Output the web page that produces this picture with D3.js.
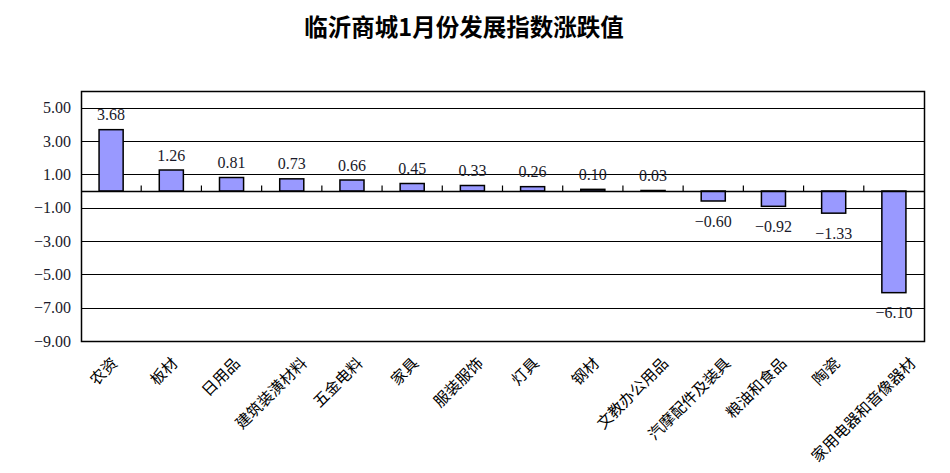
<!DOCTYPE html>
<html><head><meta charset="utf-8">
<script src="https://cdn.jsdelivr.net/npm/d3@7"></script>
<style>body{margin:0;background:#fff;}svg{display:block;}</style>
</head><body>
<svg id="c" width="950" height="473"></svg>
<script>
const title = "临沂商城1月份发展指数涨跌值";
const categories = ["农资","板材","日用品","建筑装潢材料","五金电料","家具","服装服饰","灯具","钢材","文教办公用品","汽摩配件及装具","粮油和食品","陶瓷","家用电器和音像器材"];
const values = [3.68,1.26,0.81,0.73,0.66,0.45,0.33,0.26,0.10,0.03,-0.60,-0.92,-1.33,-6.10];
const yTicks = [5,3,1,-1,-3,-5,-7,-9];

const svg = d3.select("#c");
const m = {left:81, right:924, top:91, bottom:341};
const x = d3.scaleBand().domain(categories).range([m.left, m.right]).paddingInner(0.6).paddingOuter(0.3);
const xb = d3.scaleBand().domain(categories).range([m.left, m.right]);
const y = d3.scaleLinear().domain([-9, 6]).range([m.bottom, m.top]);
const fmt = v => (v < 0 ? "\u2212" : "") + Math.abs(v).toFixed(2);
const serif = "'Liberation Serif','Times New Roman',serif";
const cjk = "'Noto Sans CJK SC','Noto Sans CJK TC',sans-serif";

svg.append("text").attr("x", 464).attr("y", 36).attr("text-anchor","middle")
  .attr("font-family", cjk).attr("font-weight","bold").attr("font-size", 23.5).attr("fill","#000").text(title);

// gridlines
svg.append("g").selectAll("line").data(yTicks.filter(t => t !== -9)).join("line")
  .attr("x1", m.left).attr("x2", m.right).attr("y1", d => Math.round(y(d))+0.5).attr("y2", d => Math.round(y(d))+0.5)
  .attr("stroke","#000").attr("stroke-width",1.2);

// y axis labels
const yAxis = d3.axisLeft(y).tickValues(yTicks).tickFormat(fmt).tickSize(0).tickPadding(10);
const ga = svg.append("g").attr("transform", `translate(${m.left},0)`).call(yAxis);
ga.select(".domain").remove();
ga.selectAll("text").attr("font-family", serif).attr("font-size", 16).attr("fill","#1a1a2a");

// bars
svg.append("g").selectAll("rect").data(values).join("rect")
  .attr("x", (d,i) => x(categories[i]))
  .attr("width", x.bandwidth())
  .attr("y", d => y(Math.max(0,d)))
  .attr("height", d => Math.abs(y(d) - y(0)))
  .attr("fill","#9999FF").attr("stroke","#000").attr("stroke-width",1.5);

// zero axis with upward ticks
const y0 = Math.round(y(0)) + 0.5;
svg.append("line").attr("x1", m.left).attr("x2", m.right).attr("y1", y0).attr("y2", y0).attr("stroke","#000").attr("stroke-width",1.5);
svg.append("g").selectAll("line").data(categories.slice(1)).join("line")
  .attr("x1", d => xb(d)).attr("x2", d => xb(d)).attr("y1", y0).attr("y2", y0 - 6)
  .attr("stroke","#000").attr("stroke-width",1.2);

// border
svg.append("rect").attr("x", m.left+0.5).attr("y", m.top+0.5).attr("width", m.right-m.left).attr("height", m.bottom-m.top)
  .attr("fill","none").attr("stroke","#000").attr("stroke-width",1.5);

// value labels
svg.append("g").selectAll("text").data(values).join("text")
  .attr("x", (d,i) => x(categories[i]) + x.bandwidth()/2)
  .attr("y", d => d >= 0 ? y(d) - 15 : y(d) + 20)
  .attr("dy","0.35em").attr("text-anchor","middle")
  .attr("font-family", serif).attr("font-size", 16).attr("fill","#1a1a2a")
  .text(fmt);

// category labels rotated
svg.append("g").selectAll("text").data(categories).join("text")
  .attr("transform", d => {
    const cx = xb(d) + xb.bandwidth()/2 + Math.max(0, d.length - 2) * 2.2;
    return `translate(${cx - 2},${355}) rotate(-45)`;
  })
  .attr("text-anchor","end").attr("dy","0.85em")
  .attr("font-family", cjk).attr("font-size", 15.5).attr("fill","#000")
  .text(d => d);
</script>
</body></html>
